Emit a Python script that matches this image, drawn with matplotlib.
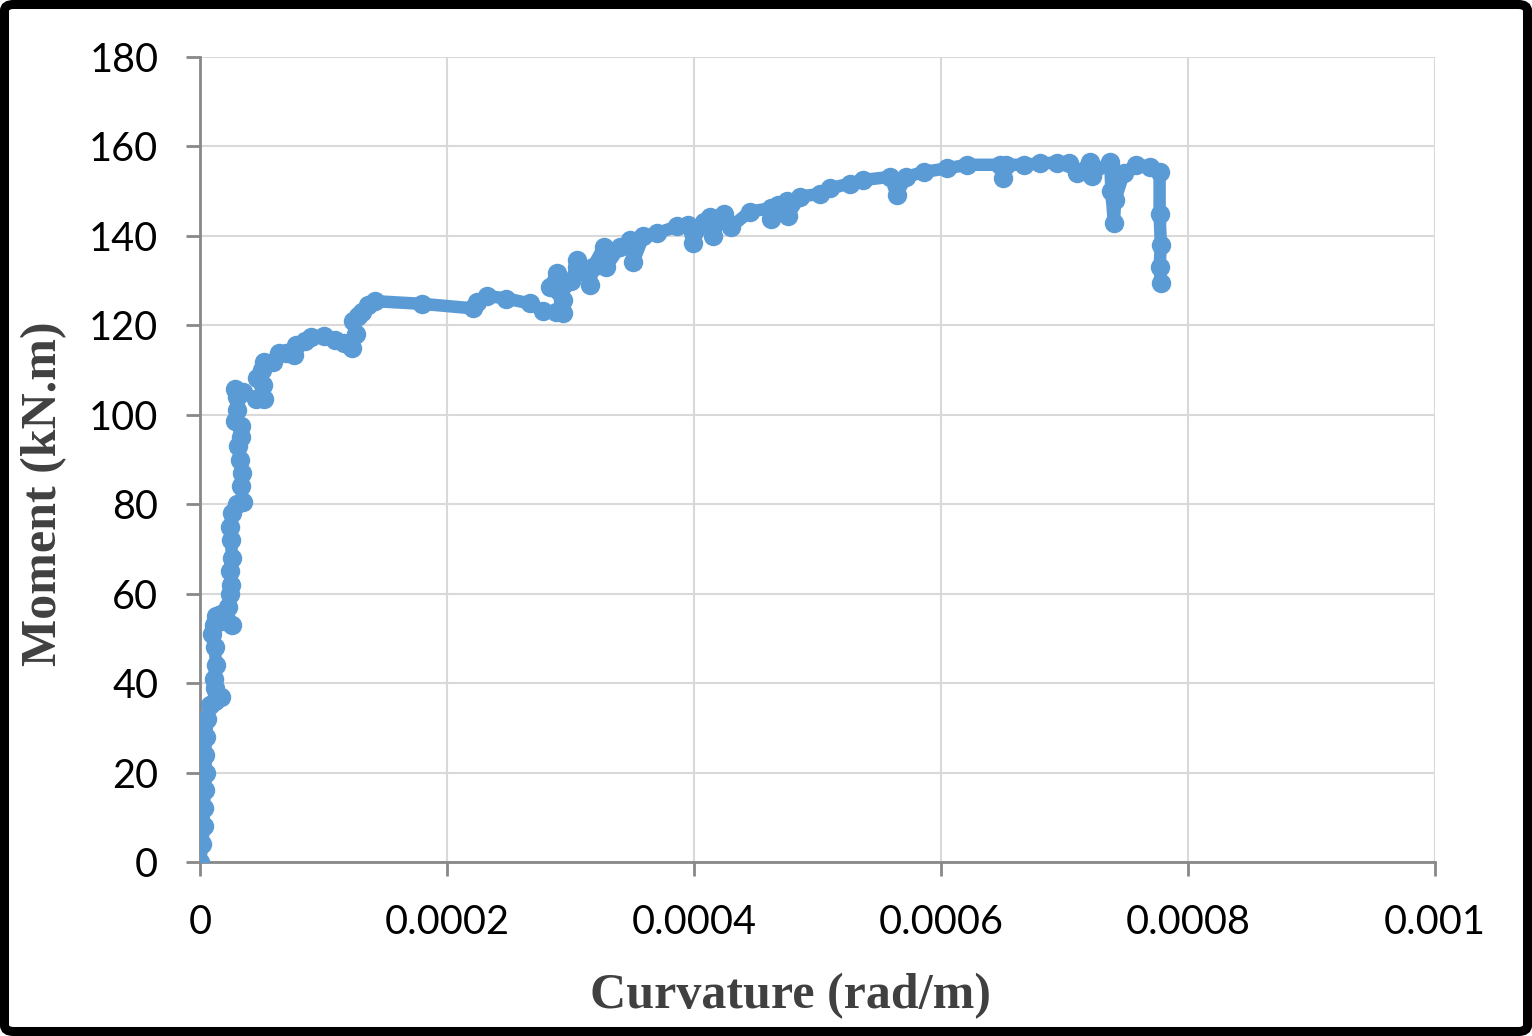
import numpy as np
import matplotlib
matplotlib.use('Agg')
import matplotlib.pyplot as plt
from matplotlib.patches import FancyBboxPatch

# curvature in micro rad/m, moment in kN.m
curv_micro = [0, 2, 3, 3, 4, 5, 4, 5, 6, 8, 12, 17, 12, 11, 13, 12, 10, 11, 13, 17,
              20, 26, 22, 23, 24, 25, 24, 26, 25, 24, 26, 30, 35, 33, 34, 32, 31, 33,
              33, 28, 30, 30, 28, 35, 45, 52, 51, 46, 50, 52, 59, 64, 70, 76, 78, 85,
              90, 100, 109, 117, 123, 126, 124, 128, 131, 136, 142, 180, 221, 224, 232,
              248, 267, 278, 288, 294, 294, 283, 289, 294, 300, 305, 305, 316, 318, 327,
              329, 340, 348, 351, 359, 370, 386, 395, 399, 408, 413, 415, 424, 430, 445,
              462, 462, 468, 475, 476, 486, 502, 510, 526, 537, 559, 564, 572, 586, 605,
              621, 648, 650, 653, 667, 680, 694, 704, 710, 721, 722, 737, 738, 740, 741,
              748, 758, 769, 777, 777, 778, 777, 778]
moment = [0, 4, 8, 12, 16, 20, 24, 28, 32, 35, 36, 37, 39, 41, 44, 48, 51, 53, 55, 55.5,
          54, 53, 54, 57, 60, 62, 65, 68, 72, 75, 78, 80, 80.5, 84, 87, 90, 93, 95,
          97.6, 98.5, 101, 104, 105.7, 105, 103.6, 103.6, 106.6, 108.3, 110, 111.7, 111.7,
          113.8, 113.8, 113.4, 115.5, 116.5, 117.3, 117.7, 116.8, 116, 115, 118, 121, 122,
          123, 124.5, 125.4, 124.8, 123.8, 125.3, 126.6, 126, 124.9, 123.2, 123, 122.7,
          125.7, 128.6, 131.6, 129, 130, 133, 134.6, 129, 133, 137.6, 133.1, 137.5, 139.1,
          134.2, 139.9, 140.6, 142.1, 142.5, 138.4, 143.2, 144.3, 140, 145, 142, 145.4,
          146.2, 143.8, 146.8, 147.7, 144.5, 148.8, 149.4, 150.6, 151.7, 152.5, 153.2,
          149.2, 153.2, 154.3, 155.1, 155.9, 155.9, 153, 155.9, 155.9, 156.2, 156.4, 156.4,
          154, 156.6, 153.5, 156.6, 150, 142.8, 148, 154, 155.9, 155.5, 154.3, 145, 138,
          133, 129.5]

x_ticks = [0, 0.0002, 0.0004, 0.0006, 0.0008, 0.001]
x_ticklabels = ['0', '0.0002', '0.0004', '0.0006', '0.0008', '0.001']
y_ticks = [0, 20, 40, 60, 80, 100, 120, 140, 160, 180]

curvature = np.array(curv_micro) * 1e-6

fig = plt.figure(figsize=(15.32, 10.36), dpi=100)
ax = fig.add_axes([200/1532, 1 - 862/1036, 1235/1532, 805/1036])

ax.plot(curvature, moment, color='#5B9BD5', lw=9, marker='o', ms=13,
        solid_capstyle='round', solid_joinstyle='round', zorder=3)

ax.set_xlim(0, 0.001)
ax.set_ylim(0, 180)
ax.set_xticks(x_ticks)
ax.set_xticklabels(x_ticklabels)
ax.set_yticks(y_ticks)

ax.grid(True, color='#D9D9D9', lw=1.5)
ax.set_axisbelow(True)
for s in ['top', 'right']:
    ax.spines[s].set_visible(False)
for s in ['left', 'bottom']:
    ax.spines[s].set_color('#888888')
    ax.spines[s].set_linewidth(2)

ax.tick_params(axis='both', direction='out', length=10, width=2, color='#888888',
               labelsize=28.5, pad=20)
for lab in ax.get_xticklabels() + ax.get_yticklabels():
    lab.set_family('Lato')

ax.set_xlabel('Curvature (rad/m)', family='Liberation Serif', weight='bold',
              size=36, color='#404040', va='center', ha='center')
ax.xaxis.set_label_coords(0.478, -0.167)
ax.set_ylabel('Moment (kN.m)', family='Liberation Serif', weight='bold',
              size=36, color='#404040', va='center', ha='center')
ax.yaxis.set_label_coords(-0.126, 0.458)

# black frame around the whole chart
frame = FancyBboxPatch((4.5/1532, 4.5/1036), 1 - 9/1532, 1 - 9/1036,
                       boxstyle='round,pad=0,rounding_size=0.006',
                       transform=fig.transFigure, fill=False, ec='black', lw=6.5)
fig.patches.append(frame)

fig.savefig('out.png', dpi=100)
